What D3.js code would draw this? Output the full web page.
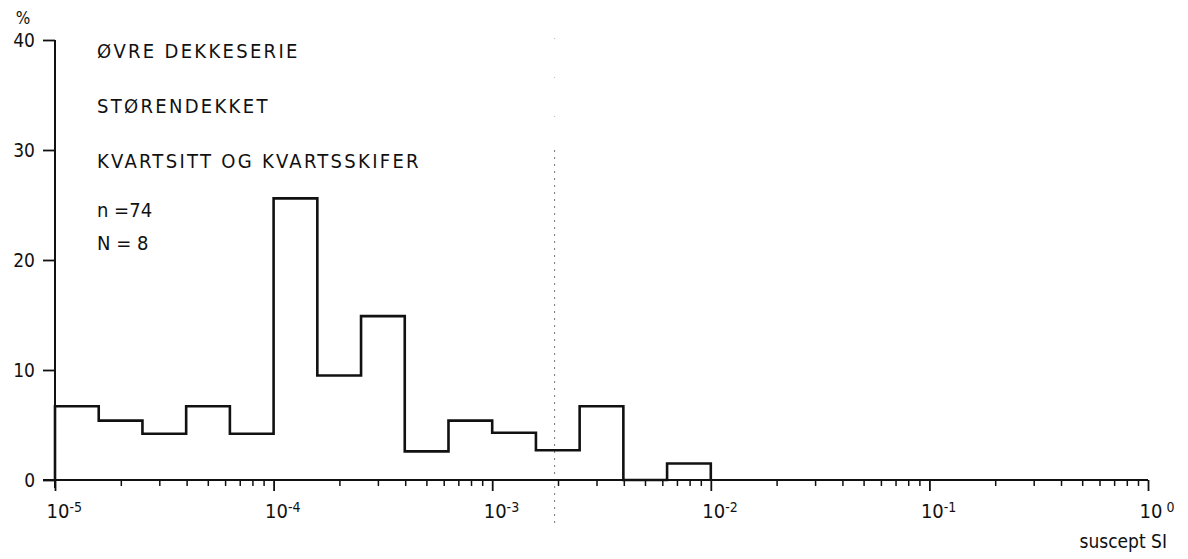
<!DOCTYPE html>
<html>
<head>
<meta charset="utf-8">
<script src="https://cdn.jsdelivr.net/npm/d3@7"></script>
<style>
  body { margin: 0; background: #fff; }
  svg text { font-family: "DejaVu Sans Condensed", "DejaVu Sans", sans-serif; fill: #111; }
</style>
</head>
<body>
<div id="chart"></div>
<script>
// Data
const binEdges = [1e-5, 1.585e-5, 2.512e-5, 3.981e-5, 6.310e-5,
                  1e-4, 1.585e-4, 2.512e-4, 3.981e-4, 6.310e-4,
                  1e-3, 1.585e-3, 2.512e-3, 3.981e-3, 6.310e-3, 1e-2];
const percents = [6.7, 5.4, 4.2, 6.7, 4.2, 25.6, 9.5, 14.9, 2.6, 5.4, 4.3, 2.7, 6.7, 0, 1.5];
const decadeTicks = [1e-5, 1e-4, 1e-3, 1e-2, 1e-1, 1];
const decadeExps = ["-5", "-4", "-3", "-2", "-1", " 0"];
const yTicks = [0, 10, 20, 30, 40];
const titleLines = ["ØVRE DEKKESERIE", "STØRENDEKKET", "KVARTSITT OG KVARTSSKIFER"];
const statLines = ["n =74", "N = 8"];
const markerValue = 0.00193;

const width = 1188, height = 559;

const xScale = d3.scaleLog().domain([1e-5, 1]).range([55, 1148]);
const yScale = d3.scaleLinear().domain([0, 40]).range([480, 40]);

const svg = d3.select("#chart")
  .append("svg")
  .attr("width", width)
  .attr("height", height);

// dotted marker line
svg.append("line")
  .attr("x1", xScale(markerValue)).attr("x2", xScale(markerValue))
  .attr("y1", 150).attr("y2", 525)
  .attr("stroke", "#777")
  .attr("stroke-width", 1)
  .attr("stroke-dasharray", "2,5");
svg.append("line")
  .attr("x1", xScale(markerValue)).attr("x2", xScale(markerValue))
  .attr("y1", 38).attr("y2", 150)
  .attr("stroke", "#bbb")
  .attr("stroke-width", 1)
  .attr("stroke-dasharray", "1,38");

// minor ticks (2..9 per decade)
const minorTicks = [];
decadeTicks.slice(0, -1).forEach(function(d) {
  for (let k = 2; k <= 9; k++) minorTicks.push(d * k);
});

const xMinor = d3.axisBottom(xScale)
  .tickValues(minorTicks)
  .tickSize(6)
  .tickFormat("");
const xMajor = d3.axisBottom(xScale)
  .tickValues(decadeTicks)
  .tickSize(11)
  .tickPadding(8)
  .tickFormat(function(d, i) { return ""; });

svg.append("g")
  .attr("class", "xMinor")
  .attr("transform", "translate(0," + yScale(0) + ")")
  .call(xMinor)
  .call(g => g.select(".domain").remove())
  .call(g => g.selectAll("line").attr("stroke", "#111").attr("stroke-width", 1.5));

const gMajor = svg.append("g")
  .attr("class", "xMajor")
  .attr("transform", "translate(0," + yScale(0) + ")")
  .call(xMajor)
  .call(g => g.select(".domain").remove())
  .call(g => g.selectAll("line").attr("stroke", "#111").attr("stroke-width", 1.8));

gMajor.selectAll(".tick text")
  .attr("text-anchor", "start")
  .attr("x", -9)
  .attr("dy", "0.95em")
  .style("font-size", "20px")
  .each(function(d, i) {
    const t = d3.select(this);
    t.append("tspan").text("10");
    t.append("tspan")
      .attr("dy", "-0.45em")
      .style("font-size", "14px")
      .attr("xml:space", "preserve")
      .text(decadeExps[i]);
  });

// x axis line
svg.append("line")
  .attr("x1", 43).attr("x2", xScale(1))
  .attr("y1", yScale(0)).attr("y2", yScale(0))
  .attr("stroke", "#111").attr("stroke-width", 2);

// y axis
const yAxis = d3.axisLeft(yScale)
  .tickValues(yTicks)
  .tickSize(12)
  .tickPadding(8);

svg.append("g")
  .attr("class", "yAxis")
  .attr("transform", "translate(" + xScale(1e-5) + ",0)")
  .call(yAxis)
  .call(g => g.select(".domain").remove())
  .call(g => g.selectAll("line").attr("stroke", "#111").attr("stroke-width", 1.8))
  .call(g => g.selectAll("text").style("font-size", "19px"));

svg.append("line")
  .attr("x1", xScale(1e-5)).attr("x2", xScale(1e-5))
  .attr("y1", yScale(40)).attr("y2", yScale(0) + 8)
  .attr("stroke", "#111").attr("stroke-width", 2);

svg.append("text")
  .attr("x", 23).attr("y", 24)
  .attr("text-anchor", "middle")
  .style("font-size", "17px")
  .text("%");

// histogram outline
const pts = [{x: binEdges[0], y: 0}];
percents.forEach(function(p, i) { pts.push({x: binEdges[i], y: p}); });
pts.push({x: binEdges[binEdges.length - 1], y: 0});

const step = d3.line()
  .x(function(d) { return xScale(d.x); })
  .y(function(d) { return yScale(d.y); })
  .curve(d3.curveStepAfter);

svg.append("path")
  .datum(pts)
  .attr("fill", "none")
  .attr("stroke", "#111")
  .attr("stroke-width", 2.6)
  .attr("stroke-linejoin", "miter")
  .attr("d", step);

// annotation texts
svg.selectAll(".title")
  .data(titleLines)
  .enter().append("text")
  .attr("class", "title")
  .attr("x", 97)
  .attr("y", function(d, i) { return 58 + i * 55; })
  .style("font-size", "20px")
  .style("letter-spacing", "2.3px")
  .text(function(d) { return d; });

svg.selectAll(".stat")
  .data(statLines)
  .enter().append("text")
  .attr("class", "stat")
  .attr("x", 97)
  .attr("y", function(d, i) { return 217 + i * 33; })
  .style("font-size", "20px")
  .text(function(d) { return d; });

svg.append("text")
  .attr("x", 1167).attr("y", 548)
  .attr("text-anchor", "end")
  .style("font-size", "19px")
  .text("suscept SI");
</script>
</body>
</html>
